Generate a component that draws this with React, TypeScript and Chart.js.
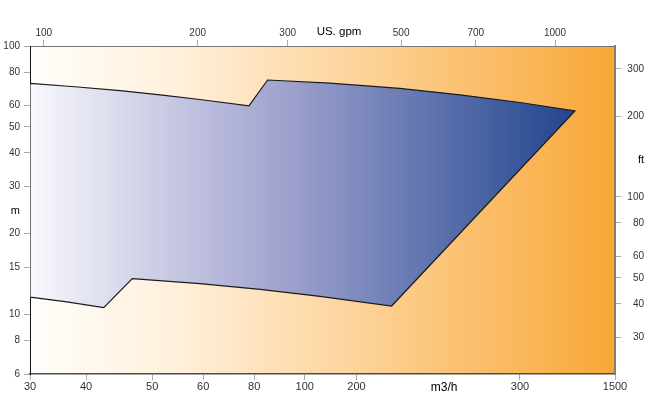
import React, { useEffect, useRef } from 'react';
import { Chart, registerables } from 'chart.js';

Chart.register(...registerables);

// Axis ranges (log scales)
const GPM_MIN = 94;
const GPM_MAX = 1310;
const M_MIN = 6;
const M_MAX = 100;
const FT_MIN = 21.9;
const FT_MAX = 365;

// Top axis: US gpm
const gpmTicks = [100, 200, 300, 500, 700, 1000];
const gpmUnit = 'US. gpm';
const gpmUnitAt = 378;

// Bottom axis: m3/h labels, as printed, and where they sit on the flow scale
const m3hLabels = ['30', '40', '50', '60', '80', '100', '200', 'm3/h', '300', '1500'];
const m3hLabelAtGpm = [94, 121, 163, 205, 258, 324, 409, 607, 854, 1310];

// Left axis: head in m
const mTicks = [6, 8, 10, 15, 20, 30, 40, 50, 60, 80, 100];
const mUnit = 'm';
const mUnitAt = 24.3;

// Right axis: head in ft
const ftTicks = [30, 40, 50, 60, 80, 100, 200, 300];
const ftUnit = 'ft';
const ftUnitAt = 137;

// Performance range envelope (flow in US gpm, head in m)
const upperGpm = [94, 115, 141, 169, 202, 252, 274, 363, 497, 652, 854, 1094];
const upperM = [72.6, 70.5, 68.2, 65.8, 63.2, 59.8, 74.7, 72.7, 69.5, 65.8, 61.6, 57.3];
const lowerGpm = [94, 111, 131, 149, 202, 265, 347, 479];
const lowerM = [11.6, 11.14, 10.6, 13.6, 13.03, 12.39, 11.68, 10.75];

const FONT = "'Liberation Sans', Arial, sans-serif";

export default function App() {
  const ref = useRef<HTMLCanvasElement>(null);

  useEffect(() => {
    const canvas = ref.current;
    if (!canvas) return;

    const polygon: { x: number; y: number }[] = [];
    upperGpm.forEach((g, i) => polygon.push({ x: g, y: upperM[i] }));
    for (let i = lowerGpm.length - 1; i >= 0; i--) polygon.push({ x: lowerGpm[i], y: lowerM[i] });
    polygon.push({ x: upperGpm[0], y: upperM[0] });

    const bgPlugin = {
      id: 'bgGradient',
      beforeDraw(chart: any) {
        const { ctx, chartArea } = chart;
        if (!chartArea) return;
        const g = ctx.createLinearGradient(chartArea.left, 0, chartArea.right, 0);
        g.addColorStop(0, '#fffefb');
        g.addColorStop(0.25, '#fff0dc');
        g.addColorStop(0.55, '#fdd49c');
        g.addColorStop(1, '#f8a737');
        ctx.save();
        ctx.fillStyle = g;
        ctx.fillRect(chartArea.left, chartArea.top, chartArea.right - chartArea.left, chartArea.bottom - chartArea.top);
        ctx.restore();
      },
    };

    const unitTick = (value: number, unitAt: number) => Math.abs(value - unitAt) < 1e-9;

    const chart = new Chart(canvas, {
      type: 'scatter',
      data: {
        datasets: [
          {
            data: polygon,
            showLine: true,
            tension: 0,
            pointRadius: 0,
            borderColor: '#1a1a1a',
            borderWidth: 1.2,
            fill: 'shape',
            backgroundColor: (context: any) => {
              const { chart: c } = context;
              const { ctx, chartArea, scales } = c;
              if (!chartArea || !scales.x) return '#8890c0';
              const right = scales.x.getPixelForValue(upperGpm[upperGpm.length - 1]);
              const g = ctx.createLinearGradient(chartArea.left, 0, right, 0);
              g.addColorStop(0, '#f8f8fd');
              g.addColorStop(0.45, '#a3a5cf');
              g.addColorStop(1, '#21458f');
              return g;
            },
            xAxisID: 'x',
            yAxisID: 'y',
          } as any,
        ],
      },
      options: {
        animation: false,
        responsive: false,
        events: [],
        layout: { padding: { right: 6, left: 0, top: 0, bottom: 0 } },
        plugins: { legend: { display: false }, tooltip: { enabled: false } },
        scales: {
          x: {
            type: 'logarithmic',
            position: 'top',
            min: GPM_MIN,
            max: GPM_MAX,
            afterBuildTicks: (s: any) => {
              s.ticks = [...gpmTicks, gpmUnitAt].sort((a, b) => a - b).map((v) => ({ value: v }));
            },
            afterFit: (s: any) => {
              s.height = 46;
            },
            border: { display: true, color: '#777', width: 1 },
            grid: {
              drawOnChartArea: false,
              drawTicks: true,
              tickLength: 6,
              tickColor: (ctx: any) => (ctx.tick && unitTick(ctx.tick.value, gpmUnitAt) ? 'rgba(0,0,0,0)' : '#aaa'),
            },
            ticks: {
              autoSkip: false,
              maxRotation: 0,
              padding: 1,
              font: (ctx: any) =>
                ctx.tick && unitTick(ctx.tick.value, gpmUnitAt)
                  ? { family: FONT, size: 11.5 }
                  : { family: FONT, size: 10 },
              color: (ctx: any) => (ctx.tick && unitTick(ctx.tick.value, gpmUnitAt) ? '#000' : '#333'),
              callback: (v: any) => (unitTick(Number(v), gpmUnitAt) ? gpmUnit : String(v)),
            },
          } as any,
          xb: {
            type: 'logarithmic',
            position: 'bottom',
            min: GPM_MIN,
            max: GPM_MAX,
            afterBuildTicks: (s: any) => {
              s.ticks = m3hLabelAtGpm.map((v) => ({ value: v }));
            },
            afterFit: (s: any) => {
              s.height = 46;
            },
            border: { display: true, color: '#4d4d4d', width: 1.5 },
            grid: {
              drawOnChartArea: false,
              drawTicks: true,
              tickLength: 6,
              tickColor: (ctx: any) => (ctx.index === 7 ? 'rgba(0,0,0,0)' : '#aaa'),
            },
            ticks: {
              autoSkip: false,
              maxRotation: 0,
              padding: 0,
              font: (ctx: any) => (ctx.index === 7 ? { family: FONT, size: 12 } : { family: FONT, size: 11 }),
              color: (ctx: any) => (ctx.index === 7 ? '#000' : '#333'),
              callback: (_v: any, i: number) => m3hLabels[i],
            },
          } as any,
          y: {
            type: 'logarithmic',
            position: 'left',
            min: M_MIN,
            max: M_MAX,
            afterBuildTicks: (s: any) => {
              s.ticks = [...mTicks, mUnitAt].sort((a, b) => a - b).map((v) => ({ value: v }));
            },
            afterFit: (s: any) => {
              s.width = 30;
            },
            border: { display: true, color: '#111', width: 1 },
            grid: {
              drawOnChartArea: false,
              drawTicks: true,
              tickLength: 6,
              tickColor: (ctx: any) => (ctx.tick && unitTick(ctx.tick.value, mUnitAt) ? 'rgba(0,0,0,0)' : '#aaa'),
            },
            ticks: {
              autoSkip: false,
              padding: 4,
              font: (ctx: any) =>
                ctx.tick && unitTick(ctx.tick.value, mUnitAt) ? { family: FONT, size: 11 } : { family: FONT, size: 10 },
              color: (ctx: any) => (ctx.tick && unitTick(ctx.tick.value, mUnitAt) ? '#000' : '#333'),
              callback: (v: any) => (unitTick(Number(v), mUnitAt) ? mUnit : String(v)),
            },
          } as any,
          y2: {
            type: 'logarithmic',
            position: 'right',
            min: FT_MIN,
            max: FT_MAX,
            afterBuildTicks: (s: any) => {
              s.ticks = [...ftTicks, ftUnitAt].sort((a, b) => a - b).map((v) => ({ value: v }));
            },
            afterFit: (s: any) => {
              s.width = 29;
            },
            border: { display: true, color: '#8d7d68', width: 2 },
            grid: {
              drawOnChartArea: false,
              drawTicks: true,
              tickLength: 6,
              tickColor: (ctx: any) => (ctx.tick && unitTick(ctx.tick.value, ftUnitAt) ? 'rgba(0,0,0,0)' : '#aaa'),
            },
            ticks: {
              autoSkip: false,
              padding: 3,
              crossAlign: 'far',
              font: (ctx: any) =>
                ctx.tick && unitTick(ctx.tick.value, ftUnitAt) ? { family: FONT, size: 11 } : { family: FONT, size: 10 },
              color: (ctx: any) => (ctx.tick && unitTick(ctx.tick.value, ftUnitAt) ? '#000' : '#333'),
              callback: (v: any) => (unitTick(Number(v), ftUnitAt) ? ftUnit : String(v)),
            },
          } as any,
        },
      } as any,
      plugins: [bgPlugin],
    });

    return () => chart.destroy();
  }, []);

  return (
    <div style={{ position: 'absolute', left: 0, top: 0, width: 650, height: 420, background: '#fff' }}>
      <canvas ref={ref} width={650} height={420} style={{ display: 'block', width: 650, height: 420 }} />
    </div>
  );
}
